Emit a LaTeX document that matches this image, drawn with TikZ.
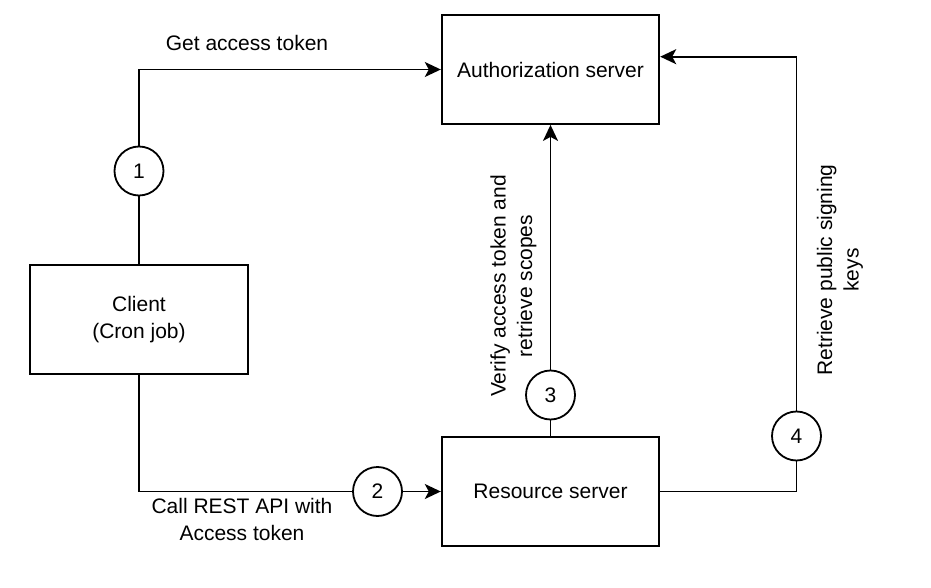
\documentclass[tikz,border=0pt]{standalone}
\usepackage{fontspec}
\setmainfont{Liberation Sans}
\usetikzlibrary{arrows.meta}
\tikzset{
  box/.style={draw, line width=1.8pt, minimum width=217.6pt, minimum height=109pt, inner sep=0pt, align=center, font=\fontsize{21}{27}\selectfont},
  num/.style={draw, circle, line width=1.8pt, minimum size=49pt, inner sep=0pt, font=\fontsize{21}{27}\selectfont},
  lbl/.style={align=center, inner sep=0pt, font=\fontsize{21}{26.5}\selectfont},
  conn/.style={line width=1.8pt},
  arr/.style={line width=1.8pt, -{Stealth[length=16pt, width=15pt, inset=4pt]}}
}
\begin{document}
\begin{tikzpicture}[x=1pt, y=-1pt]
\useasboundingbox (0,0) rectangle (931,588);
\node[box] (auth) at (550.5,69.5) {Authorization server};
\node[box, minimum width=218pt, minimum height=108.7pt, text depth=4pt] (client) at (139,319.3) {Client\\(Cron job)};
\node[box] (res) at (550.5,491.5) {Resource server};
\node[num] (c1) at (139,171) {1};
\node[num] (c2) at (377.5,491.5) {2};
\node[num] (c3) at (550.5,395) {3};
\node[num] (c4) at (796.5,436) {4};
\node[lbl] (l1) at (247,43) {Get access token};
\node[lbl] (l2) at (242,519.5) {Call REST API with\\Access token};
\node[lbl, rotate=90] (l3) at (513.5,286) {Verify access token and\\retrieve scopes};
\node[lbl, rotate=90] (l4) at (840,270) {Retrieve public signing\\keys};
\draw[conn] (client.north) -- (c1.south);
\draw[arr] (c1.north) |- (auth.west);
\draw[conn] (client.south) |- (c2.west);
\draw[arr] (c2.east) -- (res.west);
\draw[conn] (res.north) -- (c3.south);
\draw[arr] (c3.north) -- (auth.south);
\draw[conn] (res.east) -| (c4.south);
\draw[arr] (c4.north) |- ([yshift=12.8pt]auth.east);
\end{tikzpicture}
\end{document}
